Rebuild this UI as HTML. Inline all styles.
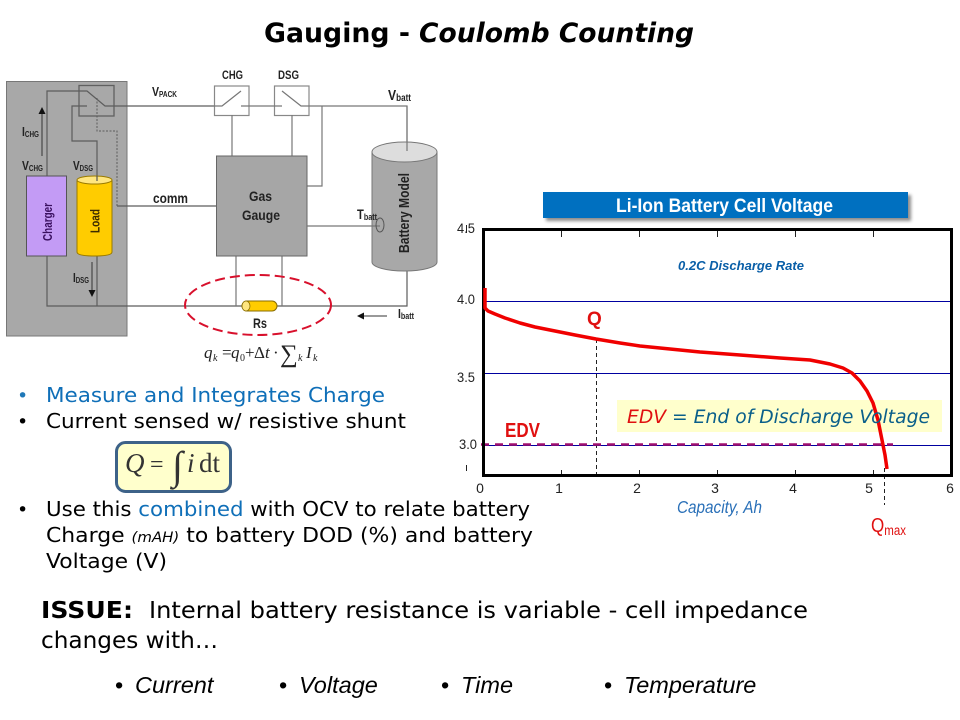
<!DOCTYPE html>
<html><head><meta charset="utf-8"><style>
html,body{margin:0;padding:0;background:#fff}
svg{display:block}
.v{font-family:"DejaVu Sans",sans-serif}
.a{font-family:"Liberation Sans",sans-serif}
.s{font-family:"Liberation Serif",serif}
.b{font-weight:bold}
.i{font-style:italic}
</style></head><body>
<svg width="960" height="720" viewBox="0 0 960 720" xmlns="http://www.w3.org/2000/svg">
<defs>
<filter id="sh" x="-5%" y="-20%" width="110%" height="150%"><feDropShadow dx="3" dy="3" stdDeviation="1.500" flood-color="#000" flood-opacity=".45"/></filter>
<marker id="ah" markerWidth="7" markerHeight="7" refX="6" refY="3.500" orient="auto"><path d="M0 0L7 3.500L0 7z" fill="#111"/></marker>
</defs>
<rect width="960" height="720" fill="#fff"/>

<text x="264" y="42" class="v b" font-size="27" textLength="146" lengthAdjust="spacingAndGlyphs">Gauging -</text>
<text x="419" y="42" class="v b i" font-size="27" textLength="275" lengthAdjust="spacingAndGlyphs">Coulomb Counting</text>

<!-- left circuit -->
<rect x="6.500" y="81.500" width="120.500" height="254.500" fill="#a8a8a8" stroke="#777" stroke-width="1"/>
<rect x="79" y="85.500" width="35" height="30.500" fill="none" stroke="#606060" stroke-width="1.300"/>
<g fill="none" stroke="#5c5c5c" stroke-width="1.200">
<path d="M47 176V91H87L105 106H214"/>
<path d="M97 176V141H72V106H87"/>
<path d="M97 98V131H117V206" stroke-dasharray="2 1.500" stroke-width="1"/>
<path d="M117 206H216"/>
<path d="M47 256V306H242M277 306H407V271"/>
<path d="M97 256V306"/>
</g>
<rect x="214.500" y="86" width="34.500" height="29.500" fill="#fff" stroke="#888" stroke-width="1.200"/>
<rect x="274.500" y="86" width="34.500" height="29.500" fill="#fff" stroke="#888" stroke-width="1.200"/>
<g fill="none" stroke="#777" stroke-width="1.200">
<path d="M200 106H222L241 91"/>
<path d="M241 106H282M282 91L301 106H407V150"/>
<path d="M232 115V156M292 115V156"/>
<path d="M322 106V186H307"/>
<path d="M236 256V306M282 256V306"/>
</g>
<path d="M42 156V108" stroke="#333" stroke-width="1" marker-end="url(#ah)"/>
<path d="M92 262V296" stroke="#333" stroke-width="1" marker-end="url(#ah)"/>
<rect x="26.500" y="176" width="40" height="80" fill="#c39bf5" stroke="#555" stroke-width="1"/>
<text transform="translate(52,222) rotate(-90)" text-anchor="middle" class="a b" font-size="13" fill="#3a1060" textLength="38" lengthAdjust="spacingAndGlyphs">Charger</text>
<path d="M77 181V252Q77 256 94.500 256T112 252V181z" fill="#fc0" stroke="#997a00" stroke-width="1"/>
<ellipse cx="94.500" cy="180" rx="17.500" ry="4" fill="#ffe680" stroke="#997a00" stroke-width="1"/>
<path d="M97 176V181" stroke="#555" stroke-width="1.200"/>
<text transform="translate(99.500,221) rotate(-90)" text-anchor="middle" class="a b" font-size="13" fill="#3b2a00" textLength="24" lengthAdjust="spacingAndGlyphs">Load</text>

<rect x="216.500" y="156" width="90.500" height="100" fill="#a6a6a6" stroke="#666" stroke-width="1"/>
<text x="249" y="201" class="a b" font-size="14" fill="#222" textLength="23" lengthAdjust="spacingAndGlyphs">Gas</text>
<text x="242" y="220" class="a b" font-size="14" fill="#222" textLength="38" lengthAdjust="spacingAndGlyphs">Gauge</text>

<path d="M372 152V262C372 267 386 271 404.500 271S437 267 437 262V152z" fill="#a8a8a8" stroke="#777" stroke-width="1"/>
<ellipse cx="404.500" cy="152" rx="32.500" ry="10" fill="#ddd" stroke="#777" stroke-width="1"/>
<path d="M407 106V151" stroke="#777" stroke-width="1.200"/>
<path d="M307 226H380" stroke="#777" stroke-width="1.200"/>
<ellipse cx="380" cy="225" rx="4" ry="7" fill="none" stroke="#555" stroke-width="1"/>
<text transform="translate(409,213) rotate(-90)" text-anchor="middle" class="a b" font-size="14.500" fill="#222" textLength="80" lengthAdjust="spacingAndGlyphs">Battery Model</text>

<ellipse cx="258" cy="305" rx="73" ry="30" fill="none" stroke="#d8102c" stroke-width="2" stroke-dasharray="10 5"/>
<rect x="242" y="301" width="35" height="10" rx="5" fill="#fc0" stroke="#8a6d00" stroke-width="1"/>
<ellipse cx="246" cy="306" rx="4" ry="5" fill="#ffe680" stroke="#8a6d00" stroke-width=".8"/>
<path d="M387 316H358" stroke="#333" stroke-width="1" marker-end="url(#ah)"/>

<g class="a" fill="#222">
<text x="152" y="96" font-size="13" class="a b" textLength="25" lengthAdjust="spacingAndGlyphs">V<tspan font-size="8" dy="1">PACK</tspan></text>
<text x="222" y="79" font-size="11.500" font-weight="bold" textLength="21" lengthAdjust="spacingAndGlyphs">CHG</text>
<text x="278" y="79" font-size="11.500" font-weight="bold" textLength="21" lengthAdjust="spacingAndGlyphs">DSG</text>
<text x="388" y="100" font-size="15" class="a b" textLength="23" lengthAdjust="spacingAndGlyphs">V<tspan font-size="10" dy="1">batt</tspan></text>
<text x="22" y="136" font-size="13" class="a b" textLength="17" lengthAdjust="spacingAndGlyphs">I<tspan font-size="8" dy="1">CHG</tspan></text>
<text x="22" y="170" font-size="13" class="a b" textLength="21" lengthAdjust="spacingAndGlyphs">V<tspan font-size="8" dy="1">CHG</tspan></text>
<text x="73" y="170" font-size="13" class="a b" textLength="20" lengthAdjust="spacingAndGlyphs">V<tspan font-size="8" dy="1">DSG</tspan></text>
<text x="73" y="282" font-size="13" class="a b" textLength="16" lengthAdjust="spacingAndGlyphs">I<tspan font-size="8" dy="1">DSG</tspan></text>
<text x="153" y="203" font-size="13.500" class="a b" textLength="35" lengthAdjust="spacingAndGlyphs">comm</text>
<text x="357" y="219" font-size="14" class="a b" textLength="20" lengthAdjust="spacingAndGlyphs">T<tspan font-size="9" dy="1">batt</tspan></text>
<text x="253" y="328" font-size="14" class="a b" textLength="14" lengthAdjust="spacingAndGlyphs">Rs</text>
<text x="398" y="318" font-size="13" class="a b" textLength="16" lengthAdjust="spacingAndGlyphs">I<tspan font-size="9" dy="1">batt</tspan></text>
</g>
<g class="s i" font-size="17" fill="#222">
<text x="204" y="358">q</text><text x="213" y="361" font-size="10">k</text>
<text x="222" y="358" font-style="normal">=</text>
<text x="231" y="358">q</text><text x="240" y="361" font-size="10" font-style="normal">0</text>
<text x="245" y="358" font-style="normal">+</text>
<text x="254" y="358" font-style="normal">Δ</text><text x="265" y="358">t</text>
<text x="273" y="358" font-style="normal">·</text>
<text x="280" y="362" font-size="25" font-style="normal">∑</text>
<text x="298" y="361" font-size="10">k</text>
<text x="306" y="358">I</text><text x="313" y="361" font-size="10">k</text>
</g>

<!-- chart -->
<rect x="543" y="192" width="365" height="26" fill="#0070c0" filter="url(#sh)"/>
<text x="616" y="212" class="a b" font-size="19.500" fill="#fff" textLength="217" lengthAdjust="spacingAndGlyphs">Li-Ion Battery Cell Voltage</text>
<rect x="617" y="400" width="325" height="32" fill="#ffffcc"/>
<g stroke="#0000a0" stroke-width="1">
<path d="M483 301.500H951M483 373.500H951M483 445.500H951"/>
</g>
<g stroke="#222" stroke-width="1">
<path d="M561.500 230V237M639.500 230V237M717.500 230V237M795.500 230V237M873.500 230V237"/>
<path d="M561.500 470V476M639.500 470V476M717.500 470V476M795.500 470V476M873.500 470V476"/>
<path d="M596.500 339V475M884.500 468V505" stroke-dasharray="4 3"/>
<path d="M466.500 465V471M466.500 225V233"/>
</g>
<path d="M481 444.500H893" stroke="#a0106e" stroke-width="2.500" stroke-dasharray="8 6"/>
<rect x="483.500" y="229.500" width="468" height="246" fill="none" stroke="#000" stroke-width="3"/>
<path d="M485 288V308L488 311L495 314L505 318L520 323L535 327L550 330L575 335L596 339L620 343L640 346L670 349L700 352L740 355L780 358L810 360L830 364L843 368L852 373L860 381L867 391L873 403L878 420L882 440L885 455L887 469" fill="none" stroke="#f00000" stroke-width="3.500" stroke-linejoin="round"/>

<g class="a" fill="#222" font-size="14">
<text x="457" y="233" textLength="18" lengthAdjust="spacingAndGlyphs">4.5</text>
<text x="457" y="304" textLength="18" lengthAdjust="spacingAndGlyphs">4.0</text>
<text x="457" y="382" textLength="18" lengthAdjust="spacingAndGlyphs">3.5</text>
<text x="459" y="449" textLength="18" lengthAdjust="spacingAndGlyphs">3.0</text>
<text x="480" y="493" text-anchor="middle">0</text>
<text x="559" y="493" text-anchor="middle">1</text>
<text x="637" y="493" text-anchor="middle">2</text>
<text x="715" y="493" text-anchor="middle">3</text>
<text x="793" y="493" text-anchor="middle">4</text>
<text x="869" y="493" text-anchor="middle">5</text>
<text x="950" y="493" text-anchor="middle">6</text>
</g>
<text x="678" y="270" class="a b i" font-size="13" fill="#0a5fa8" textLength="126" lengthAdjust="spacingAndGlyphs">0.2C Discharge Rate</text>
<text x="587" y="325" class="a b" font-size="19" fill="#e01010">Q</text>
<text x="505" y="437" class="a b" font-size="20" fill="#e01010" textLength="35" lengthAdjust="spacingAndGlyphs">EDV</text>
<text x="627" y="423" class="v i" font-size="18.500" fill="#0a5f8a" textLength="303" lengthAdjust="spacingAndGlyphs"><tspan fill="#e01010">EDV</tspan> = End of Discharge Voltage</text>
<text x="677" y="513" class="a i" font-size="17.500" fill="#2a70b8" textLength="85" lengthAdjust="spacingAndGlyphs">Capacity, Ah</text>
<text x="871" y="532" class="a" font-size="20" fill="#e01010" textLength="35" lengthAdjust="spacingAndGlyphs">Q<tspan font-size="13.500" dy="3">max</tspan></text>

<!-- bullets -->
<g class="v" font-size="20.500" fill="#000">
<text x="17" y="402" fill="#1f78b8" font-size="19">•</text>
<text x="46" y="402" fill="#0f6fb8" textLength="339" lengthAdjust="spacingAndGlyphs">Measure and Integrates Charge</text>
<text x="17" y="428" font-size="19">•</text>
<text x="46" y="428" textLength="360" lengthAdjust="spacingAndGlyphs">Current sensed w/ resistive shunt</text>
<text x="17" y="516" font-size="19">•</text>
<text x="46" y="516" textLength="484" lengthAdjust="spacingAndGlyphs">Use this <tspan fill="#0f6fb8">combined</tspan> with OCV to relate battery</text>
<text x="46" y="542" textLength="487" lengthAdjust="spacingAndGlyphs">Charge <tspan class="i" font-size="14">(mAH)</tspan> to battery DOD (%) and battery</text>
<text x="46" y="568" textLength="121" lengthAdjust="spacingAndGlyphs">Voltage (V)</text>
</g>
<rect x="116.500" y="442.500" width="114" height="49" rx="9" fill="#ffffcc" stroke="#3d6288" stroke-width="3"/>
<text x="125" y="472" class="s i" font-size="27" fill="#333">Q</text>
<text x="150" y="472" class="s" font-size="24" fill="#333">=</text>
<text x="172" y="479" class="s" font-size="40" fill="#333">∫</text>
<text x="187" y="472" class="s i" font-size="27" fill="#333">i</text>
<text x="199" y="472" class="s" font-size="27" fill="#333">dt</text>

<g class="v" font-size="23" fill="#000">
<text x="41" y="618" class="b" textLength="92" lengthAdjust="spacingAndGlyphs">ISSUE:</text>
<text x="149" y="618" textLength="659" lengthAdjust="spacingAndGlyphs">Internal battery resistance is variable - cell impedance</text>
<text x="41" y="648" textLength="177" lengthAdjust="spacingAndGlyphs">changes with…</text>
</g>
<g class="a i" font-size="23.500" fill="#000">
<text x="115" y="693" font-style="normal">•</text><text x="135" y="693">Current</text>
<text x="279" y="693" font-style="normal">•</text><text x="299" y="693">Voltage</text>
<text x="441" y="693" font-style="normal">•</text><text x="461" y="693">Time</text>
<text x="604" y="693" font-style="normal">•</text><text x="624" y="693">Temperature</text>
</g>
</svg>
</body></html>
